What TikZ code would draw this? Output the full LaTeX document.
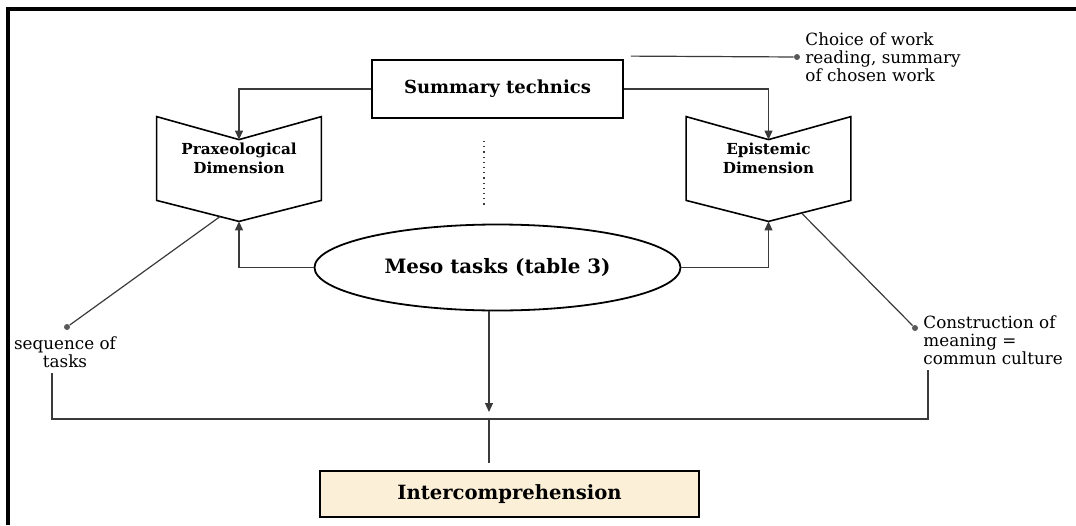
\documentclass[tikz,border=0pt]{standalone}
\usepackage{fontspec}
\setmainfont{DejaVu Serif}
\usetikzlibrary{positioning,calc,arrows.meta}
\usetikzlibrary{shapes.geometric}
\definecolor{beige}{HTML}{FBEFD8}
\definecolor{linegray}{HTML}{3A3A3A}
\tikzset{
        treenode/.style={align=center,inner sep=0pt},
        % Framed boxes
        node_box/.style={treenode, rectangle, draw=black, line width=0.9pt, font=\bfseries\fontsize{9}{11}\selectfont},
        % Dimension nodes (outline drawn afterwards)
        node_dim/.style={treenode, rectangle, minimum width=82pt, minimum height=41.5pt, font=\bfseries\fontsize{7.6}{9.5}\selectfont},
        % Side notes
        node_note/.style={treenode, font=\fontsize{8.4}{8.9}\selectfont},
        % Dots at the end of the notes
        node_dot/.style={circle, fill=black!65, inner sep=0pt, minimum size=3pt},
        link/.style={draw=linegray, line width=0.6pt},
        arr/.style={link, -{Triangle[length=4.5pt,width=4pt]}}
}

\begin{document}
\begin{tikzpicture}[x=0.5pt, y=-0.5pt]
    \useasboundingbox (0,0) rectangle (1076,525);
    % frame
    \draw[line width=1.6pt] (8,525) -- (8,9) -- (1076,9);

    \node[node_box, minimum width=125.5pt, minimum height=29pt] (sum) at (497.5,89) {Summary technics};
    \node[node_dim] (prax) at (239,158.5) {Praxeological\\Dimension};
    \node[node_dim] (epis) at (768.5,158.5) {Epistemic\\Dimension};
    \node[node_box, ellipse, minimum width=183pt, minimum height=43pt, font=\bfseries\fontsize{9.9}{11}\selectfont] (meso) at (497.5,267.5) {Meso tasks (table 3)};
    \node[node_box, fill=beige, minimum width=189.5pt, minimum height=23pt, font=\bfseries\fontsize{9.8}{11}\selectfont] (inter) at (509.5,494) {Intercomprehension};

    \foreach \n in {prax,epis}
        \draw[line width=0.8pt] (\n.north west) -- ([yshift=-11.5pt]\n.north) -- (\n.north east)
            -- (\n.south east) -- ([yshift=-10.5pt]\n.south) -- (\n.south west) -- cycle;

    % notes
    \node[node_dot] (choicedot) at (797,57) {};
    \node[node_note, anchor=west, align=left] (choice) at (805,57.5) {Choice of work\\reading, summary\\of chosen work};
    \node[node_dot] (seqdot) at (67,327) {};
    \node[node_note, below=3pt of seqdot, xshift=-1pt] (seq) {sequence of\\tasks};
    \node[node_dot] (condot) at (915,328) {};
    \node[node_note, anchor=west, align=left] (con) at (923,340) {Construction of\\meaning =\\commun culture};
    \coordinate (join) at (489,419);

    % links
    \draw[arr] (sum.west) -| ([yshift=-11.5pt]prax.north);
    \draw[arr] (sum.east) -| ([yshift=-11.5pt]epis.north);
    \draw[link] ([shift={(7,-3)}]sum.north east) -- (choicedot);
    \draw[link, dotted, line width=0.8pt] ([shift={(-13.5,22)}]sum.south) -- ([shift={(-13.5,-16)}]meso.north);
    \draw[arr] (meso.west) -| ([yshift=-10.5pt]prax.south);
    \draw[arr] (meso.east) -| ([yshift=-10.5pt]epis.south);
    \draw[link] ($(prax.south west)!0.77!([yshift=-10.5pt]prax.south)$) -- (seqdot);
    \draw[link] ($([yshift=-10.5pt]epis.south)!0.4!(epis.south east)$) -- (condot);
    \draw[link] ([xshift=-6.5pt,yshift=-2.5pt]seq.south) |- (join) -| ([xshift=2.5pt,yshift=-2.5pt]con.south west);
    \draw[arr] (meso.south -| join) -- ([yshift=3.5pt]join);
    \draw[link] (join) -- ([yshift=3.5pt]inter.north -| join);
\end{tikzpicture}
\end{document}
